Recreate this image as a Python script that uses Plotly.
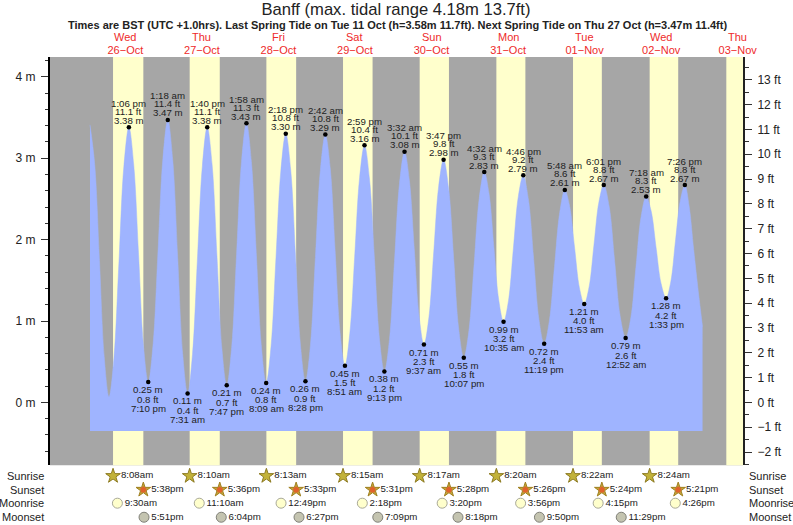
import plotly.graph_objects as go

FONT = "Liberation Sans"
GRAY, YELLOW, BLUE = "#a6a6a6", "#ffffcc", "#9fb4ff"
TEXT = "#222222"
RED = "#ee2a2a"

# ---- data -----------------------------------------------------------------
sunrise = ["2022-10-26 08:08", "2022-10-27 08:10", "2022-10-28 08:13", "2022-10-29 08:15",
           "2022-10-30 08:17", "2022-10-31 08:20", "2022-11-01 08:22", "2022-11-02 08:24",
           "2022-11-03 08:26"]
sunset = ["2022-10-26 17:38", "2022-10-27 17:36", "2022-10-28 17:33", "2022-10-29 17:31",
          "2022-10-30 17:28", "2022-10-31 17:26", "2022-11-01 17:24", "2022-11-02 17:21",
          "2022-11-03 17:19"]
sunrise_labels = ["8:08am", "8:10am", "8:13am", "8:15am", "8:17am", "8:20am", "8:22am", "8:24am"]
sunset_labels = ["5:38pm", "5:36pm", "5:33pm", "5:31pm", "5:28pm", "5:26pm", "5:24pm", "5:21pm"]
moonrise = ["2022-10-26 09:30", "2022-10-27 11:10", "2022-10-28 12:49", "2022-10-29 14:18",
            "2022-10-30 15:20", "2022-10-31 15:56", "2022-11-01 16:15", "2022-11-02 16:26"]
moonrise_labels = ["9:30am", "11:10am", "12:49pm", "2:18pm", "3:20pm", "3:56pm", "4:15pm", "4:26pm"]
moonset = ["2022-10-26 17:51", "2022-10-27 18:04", "2022-10-28 18:27", "2022-10-29 19:09",
           "2022-10-30 20:18", "2022-10-31 21:50", "2022-11-01 23:29"]
moonset_labels = ["5:51pm", "6:04pm", "6:27pm", "7:09pm", "8:18pm", "9:50pm", "11:29pm"]

day_centres = ["2022-10-26 12:00", "2022-10-27 12:00", "2022-10-28 12:00", "2022-10-29 12:00",
               "2022-10-30 12:00", "2022-10-31 12:00", "2022-11-01 12:00", "2022-11-02 12:00",
               "2022-11-03 12:00"]
day_names = ["Wed", "Thu", "Fri", "Sat", "Sun", "Mon", "Tue", "Wed", "Thu"]
day_dates = ["26−Oct", "27−Oct", "28−Oct", "29−Oct", "30−Oct", "31−Oct", "01−Nov", "02−Nov", "03−Nov"]

high_time = ["2022-10-26 13:06", "2022-10-27 01:18", "2022-10-27 13:40", "2022-10-28 01:58",
             "2022-10-28 14:18", "2022-10-29 02:42", "2022-10-29 14:59", "2022-10-30 03:32",
             "2022-10-30 15:47", "2022-10-31 04:32", "2022-10-31 16:46", "2022-11-01 05:48",
             "2022-11-01 18:01", "2022-11-02 07:18", "2022-11-02 19:26"]
high_m = [3.38, 3.47, 3.38, 3.43, 3.30, 3.29, 3.16, 3.08, 2.98, 2.83, 2.79, 2.61, 2.67, 2.53, 2.67]
high_ft = ["11.1", "11.4", "11.1", "11.3", "10.8", "10.8", "10.4", "10.1", "9.8", "9.3", "9.2",
           "8.6", "8.8", "8.3", "8.8"]
high_label = ["1:06 pm", "1:18 am", "1:40 pm", "1:58 am", "2:18 pm", "2:42 am", "2:59 pm", "3:32 am",
              "3:47 pm", "4:32 am", "4:46 pm", "5:48 am", "6:01 pm", "7:18 am", "7:26 pm"]

low_time = ["2022-10-26 19:10", "2022-10-27 07:31", "2022-10-27 19:47", "2022-10-28 08:09",
            "2022-10-28 20:28", "2022-10-29 08:51", "2022-10-29 21:13", "2022-10-30 09:37",
            "2022-10-30 22:07", "2022-10-31 10:35", "2022-10-31 23:19", "2022-11-01 11:53",
            "2022-11-02 00:52", "2022-11-02 13:33"]
low_m = [0.25, 0.11, 0.21, 0.24, 0.26, 0.45, 0.38, 0.71, 0.55, 0.99, 0.72, 1.21, 0.79, 1.28]
low_ft = ["0.8", "0.4", "0.7", "0.8", "0.9", "1.5", "1.2", "2.3", "1.8", "3.2", "2.4", "4.0", "2.6", "4.2"]
low_label = ["7:10 pm", "7:31 am", "7:47 pm", "8:09 am", "8:28 pm", "8:51 am", "9:13 pm", "9:37 am",
             "10:07 pm", "10:35 am", "11:19 pm", "11:53 am", "12:52 am", "1:33 pm"]

curve_time = [
    "2022-10-26 00:54", "2022-10-26 02:24", "2022-10-26 03:53", "2022-10-26 05:22",
    "2022-10-26 06:52", "2022-10-26 08:25", "2022-10-26 09:59", "2022-10-26 11:32",
    "2022-10-26 13:06", "2022-10-26 14:37", "2022-10-26 16:08", "2022-10-26 17:39",
    "2022-10-26 19:10", "2022-10-26 20:42", "2022-10-26 22:14", "2022-10-26 23:46",
    "2022-10-27 01:18", "2022-10-27 02:51", "2022-10-27 04:24", "2022-10-27 05:58",
    "2022-10-27 07:31", "2022-10-27 09:03", "2022-10-27 10:35", "2022-10-27 12:08",
    "2022-10-27 13:40", "2022-10-27 15:12", "2022-10-27 16:43", "2022-10-27 18:15",
    "2022-10-27 19:47", "2022-10-27 21:20", "2022-10-27 22:52", "2022-10-28 00:25",
    "2022-10-28 01:58", "2022-10-28 03:31", "2022-10-28 05:03", "2022-10-28 06:36",
    "2022-10-28 08:09", "2022-10-28 09:41", "2022-10-28 11:13", "2022-10-28 12:46",
    "2022-10-28 14:18", "2022-10-28 15:50", "2022-10-28 17:23", "2022-10-28 18:55",
    "2022-10-28 20:28", "2022-10-28 22:01", "2022-10-28 23:35", "2022-10-29 01:08",
    "2022-10-29 02:42", "2022-10-29 04:14", "2022-10-29 05:46", "2022-10-29 07:19",
    "2022-10-29 08:51", "2022-10-29 10:23", "2022-10-29 11:55", "2022-10-29 13:27",
    "2022-10-29 14:59", "2022-10-29 16:32", "2022-10-29 18:06", "2022-10-29 19:39",
    "2022-10-29 21:13", "2022-10-29 22:48", "2022-10-30 00:22", "2022-10-30 01:57",
    "2022-10-30 03:32", "2022-10-30 05:03", "2022-10-30 06:34", "2022-10-30 08:06",
    "2022-10-30 09:37", "2022-10-30 11:10", "2022-10-30 12:42", "2022-10-30 14:14",
    "2022-10-30 15:47", "2022-10-30 17:22", "2022-10-30 18:57", "2022-10-30 20:32",
    "2022-10-30 22:07", "2022-10-30 23:43", "2022-10-31 01:20", "2022-10-31 02:56",
    "2022-10-31 04:32", "2022-10-31 06:03", "2022-10-31 07:33", "2022-10-31 09:04",
    "2022-10-31 10:35", "2022-10-31 12:08", "2022-10-31 13:40", "2022-10-31 15:13",
    "2022-10-31 16:46", "2022-10-31 18:24", "2022-10-31 20:02", "2022-10-31 21:41",
    "2022-10-31 23:19", "2022-11-01 00:56", "2022-11-01 02:33", "2022-11-01 04:11",
    "2022-11-01 05:48", "2022-11-01 07:19", "2022-11-01 08:50", "2022-11-01 10:22",
    "2022-11-01 11:53", "2022-11-01 13:25", "2022-11-01 14:57", "2022-11-01 16:29",
    "2022-11-01 18:01", "2022-11-01 19:44", "2022-11-01 21:26", "2022-11-01 23:09",
    "2022-11-02 00:52", "2022-11-02 02:29", "2022-11-02 04:05", "2022-11-02 05:42",
    "2022-11-02 07:18", "2022-11-02 08:52", "2022-11-02 10:25", "2022-11-02 11:59",
    "2022-11-02 13:33", "2022-11-02 15:01", "2022-11-02 16:29", "2022-11-02 17:58",
    "2022-11-02 19:26", "2022-11-02 20:49", "2022-11-02 22:12", "2022-11-02 23:36",
    "2022-11-03 00:59",
]
curve_m = [
    3.41, 2.92, 1.74, 0.56,
    0.07, 0.55, 1.72, 2.90,
    3.38, 2.92, 1.82, 0.71,
    0.25, 0.72, 1.86, 3.00,
    3.47, 2.98, 1.79, 0.60,
    0.11, 0.59, 1.75, 2.90,
    3.38, 2.92, 1.80, 0.67,
    0.21, 0.68, 1.82, 2.96,
    3.43, 2.96, 1.84, 0.71,
    0.24, 0.69, 1.77, 2.85,
    3.30, 2.86, 1.78, 0.70,
    0.26, 0.70, 1.78, 2.85,
    3.29, 2.88, 1.87, 0.86,
    0.45, 0.85, 1.80, 2.76,
    3.16, 2.75, 1.77, 0.79,
    0.38, 0.77, 1.73, 2.69,
    3.08, 2.73, 1.90, 1.06,
    0.71, 1.04, 1.85, 2.65,
    2.98, 2.63, 1.77, 0.90,
    0.55, 0.88, 1.69, 2.50,
    2.83, 2.56, 1.91, 1.26,
    0.99, 1.25, 1.89, 2.53,
    2.79, 2.49, 1.76, 1.02,
    0.72, 1.00, 1.67, 2.33,
    2.61, 2.41, 1.91, 1.41,
    1.21, 1.42, 1.94, 2.46,
    2.67, 2.40, 1.73, 1.06,
    0.79, 1.04, 1.66, 2.28,
    2.53, 2.35, 1.90, 1.46,
    1.28, 1.48, 1.98, 2.47,
    2.67, 2.40, 1.88, 1.38,
    0.93,
]
base_m = -0.35

m_ticks = [0, 1, 2, 3, 4]
ft_ticks = list(range(-2, 14))

# ---- scale ----------------------------------------------------------------
X_RANGE = ["2022-10-25 12:22", "2022-11-03 13:40"]
M_RANGE = [-0.772, 4.243]
FT_PER_M = 3.28084
TOP, MAIN_BOTTOM, WIDTH, HEIGHT = 57.3, 465.3, 793, 525
LEFT, RIGHT = 50, 742.7
AREA_H = HEIGHT - TOP
SPLIT = (HEIGHT - MAIN_BOTTOM) / AREA_H
ROW_Y = {"Sunrise": 0.82, "Sunset": 0.59, "Moonrise": 0.365, "Moonset": 0.13}

fig = go.Figure()

# night background and daylight bands, in the upper panel only
fig.add_shape(type="rect", xref="x domain", yref="y domain", x0=0, x1=1, y0=0, y1=1,
              fillcolor=GRAY, line_width=0, layer="below")
for a, b in zip(sunrise, sunset):
    fig.add_shape(type="rect", xref="x", yref="y domain", x0=a, x1=b, y0=0, y1=1,
                  fillcolor=YELLOW, line_width=0, layer="below")

# water
fig.add_trace(go.Scatter(x=[curve_time[0], curve_time[-1]], y=[base_m, base_m], mode="lines",
                         line=dict(width=0, color=BLUE), hoverinfo="skip", showlegend=False))
fig.add_trace(go.Scatter(x=curve_time, y=curve_m, mode="lines", fill="tonexty", fillcolor=BLUE,
                         line=dict(width=0.5, color=BLUE, shape="spline", smoothing=1.0),
                         showlegend=False))

# high/low markers
fig.add_trace(go.Scatter(x=high_time + low_time, y=high_m + low_m, mode="markers",
                         marker=dict(color="black", size=4.5), showlegend=False))

annotations = []


def tide_text(x, text, y, shift):
    annotations.append(dict(x=x, y=y, xref="x", yref="y", text=text, showarrow=False, yshift=shift,
                            xanchor="center", yanchor="middle",
                            font=dict(family=FONT, size=9.7, color=TEXT)))


for t, m, ft, lab in zip(high_time, high_m, high_ft, high_label):
    tide_text(t, f"{m:.2f} m", m, 7)
    tide_text(t, f"{ft} ft", m, 16)
    tide_text(t, lab, m, 24)
for t, m, ft, lab in zip(low_time, low_m, low_ft, low_label):
    tide_text(t, f"{m:.2f} m", m, -7.5)
    tide_text(t, f"{ft} ft", m, -17)
    tide_text(t, lab, m, -26)


# almanac rows, on their own small axis below the tide panel
def row(name, xs, labels, symbol, size, fill, edge, core=None):
    ys = [ROW_Y[name]] * len(xs)
    fig.add_trace(go.Scatter(x=xs, y=ys, yaxis="y3", mode="markers+text",
                             text=labels, textposition="middle right",
                             textfont=dict(family=FONT, size=9.7, color=TEXT),
                             marker=dict(symbol=symbol, size=size, color=fill,
                                         line=dict(color=edge, width=1)),
                             showlegend=False))
    if core:
        fig.add_trace(go.Scatter(x=xs, y=ys, yaxis="y3", mode="markers", hoverinfo="skip",
                                 marker=dict(symbol="pentagon", size=size * 0.62, color=core,
                                             line=dict(width=0)),
                                 showlegend=False))
    for px, anchor in ((46 - LEFT, "right"), (747 - LEFT, "left")):
        annotations.append(dict(x=px / (RIGHT - LEFT), y=ROW_Y[name], xref="paper", yref="y3", text=name,
                                showarrow=False, xanchor=anchor, yanchor="middle",
                                font=dict(family=FONT, size=11, color=TEXT)))


row("Sunrise", sunrise[:8], sunrise_labels, "star", 11, "#c2b23a", "#8c7a20", core="#c2b23a")
row("Sunset", sunset[:8], sunset_labels, "star", 11, "#c2a83a", "#a08020", core="#e0622c")
row("Moonrise", moonrise, moonrise_labels, "circle", 10, YELLOW, "#a8a898")
row("Moonset", moonset, moonset_labels, "circle", 10, "#c4c4b0", "#808078")

# invisible trace that brings in the feet axis
fig.add_trace(go.Scatter(x=[curve_time[0]], y=[0], yaxis="y2", mode="markers",
                         marker=dict(opacity=0), hoverinfo="skip", showlegend=False))

# weekday names above the date tick labels
for x, n in zip(day_centres, day_names):
    annotations.append(dict(x=x, y=1 + (TOP - 37.5) / AREA_H, xref="x", yref="paper", text=n,
                            showarrow=False, xanchor="center", yanchor="middle",
                            font=dict(family=FONT, size=11, color=RED)))

annotations.append(dict(x=(397 - LEFT) / (RIGHT - LEFT), y=1 + (TOP - 25) / AREA_H, xref="paper",
                        yref="paper", showarrow=False, xanchor="center", yanchor="middle",
                        text="<b>Times are BST (UTC +1.0hrs). Last Spring Tide on Tue 11 Oct (h=3.58m 11.7ft). "
                             "Next Spring Tide on Thu 27 Oct (h=3.47m 11.4ft)</b>",
                        font=dict(family=FONT, size=11, color=TEXT)))

fig.update_layout(
    width=WIDTH, height=HEIGHT, autosize=False,
    margin=dict(l=LEFT, r=WIDTH - RIGHT, t=TOP, b=0, pad=0),
    paper_bgcolor="white", plot_bgcolor="white",
    font=dict(family=FONT, color=TEXT),
    title=dict(text="Banff (max. tidal range 4.18m 13.7ft)", x=396 / WIDTH, xanchor="center",
               y=1 - 9 / HEIGHT, yanchor="middle", font=dict(family=FONT, size=16.6, color=TEXT)),
    annotations=annotations,
    xaxis=dict(type="date", range=X_RANGE, side="top", anchor="y", tickmode="array", tickvals=day_centres,
               ticktext=day_dates, ticks="", showgrid=False, zeroline=False, showline=False,
               tickangle=0, tickfont=dict(family=FONT, size=11, color=RED)),
    yaxis=dict(domain=[SPLIT, 1], range=M_RANGE, tickmode="array", tickvals=m_ticks,
               ticktext=[f"{v} m" for v in m_ticks], ticks="outside", ticklen=7, tickwidth=1,
               tickcolor="#333333", showgrid=False, zeroline=False, showline=True, linecolor="black",
               linewidth=2, ticklabelstandoff=3, tickfont=dict(family=FONT, size=12, color=TEXT),
               minor=dict(dtick=0.2, ticks="outside", ticklen=3.5, tickwidth=1, tickcolor="#333333",
                          showgrid=False)),
    yaxis2=dict(domain=[SPLIT, 1], range=[M_RANGE[0] * FT_PER_M, M_RANGE[1] * FT_PER_M], overlaying="y",
                side="right", tickmode="array", tickvals=ft_ticks,
                ticktext=[f"−{-v} ft" if v < 0 else f"{v} ft" for v in ft_ticks],
                ticks="outside", ticklen=7, tickwidth=1, tickcolor="#333333", showgrid=False,
                zeroline=False, showline=True, linecolor="#222222", linewidth=2, ticklabelstandoff=3,
                tickfont=dict(family=FONT, size=12, color=TEXT),
                minor=dict(dtick=0.5, ticks="outside", ticklen=3.5, tickwidth=1, tickcolor="#333333",
                           showgrid=False)),
    yaxis3=dict(domain=[0, SPLIT], range=[0, 1], anchor="x", visible=False, fixedrange=True),
)

fig.write_html("out.html", config=dict(displayModeBar=False),
               post_script="document.body.style.margin='0';")
